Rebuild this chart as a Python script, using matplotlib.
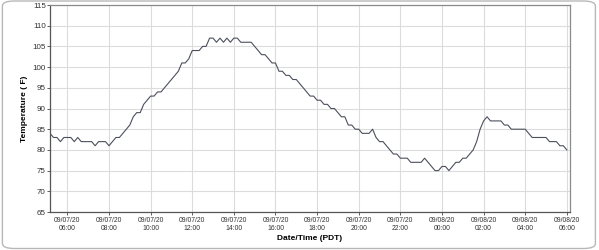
import matplotlib
matplotlib.use("Agg")
import matplotlib.pyplot as plt
import matplotlib.dates as mdates
from matplotlib.patches import FancyBboxPatch
import pandas as pd

# readings every 10 minutes, 09/07/20 05:10 -> 09/08/20 06:00 (PDT)
start = "2020-09-07 05:10"
temps = [
    84, 83, 83, 82, 83,                 # 05:10 - 05:50
    83, 83, 82, 83, 82, 82,             # 06:00
    82, 82, 81, 82, 82, 82,             # 07:00
    81, 82, 83, 83, 84, 85,             # 08:00
    86, 88, 89, 89, 91, 92,             # 09:00
    93, 93, 94, 94, 95, 96,             # 10:00
    97, 98, 99, 101, 101, 102,          # 11:00
    104, 104, 104, 105, 105, 107,       # 12:00
    107, 106, 107, 106, 107, 106,       # 13:00
    107, 107, 106, 106, 106, 106,       # 14:00
    105, 104, 103, 103, 102, 101,       # 15:00
    101, 99, 99, 98, 98, 97,            # 16:00
    97, 96, 95, 94, 93, 93,             # 17:00
    92, 92, 91, 91, 90, 90,             # 18:00
    89, 88, 88, 86, 86, 85,             # 19:00
    85, 84, 84, 84, 85, 83,             # 20:00
    82, 82, 81, 80, 79, 79,             # 21:00
    78, 78, 78, 77, 77, 77,             # 22:00
    77, 78, 77, 76, 75, 75,             # 23:00
    76, 76, 75, 76, 77, 77,             # 00:00
    78, 78, 79, 80, 82, 85,             # 01:00
    87, 88, 87, 87, 87, 87,             # 02:00
    86, 86, 85, 85, 85, 85,             # 03:00
    85, 84, 83, 83, 83, 83,             # 04:00
    83, 82, 82, 82, 81, 81,             # 05:00
    80,                                 # 06:00
]
times = pd.date_range(start, periods=len(temps), freq="10min")

y_ticks = list(range(65, 116, 5))

fig = plt.figure(figsize=(5.99, 2.5), dpi=100)
fig.patches.append(FancyBboxPatch((0.004, 0.006), 0.99, 0.99,
                                  boxstyle="round,pad=0,rounding_size=0.02",
                                  transform=fig.transFigure, fill=False,
                                  edgecolor="#b8b8b8", linewidth=1.0))
ax = fig.add_axes([0.0835, 0.152, 0.868, 0.828])

ax.plot(times, temps, color="#4b505c", linewidth=0.8)

ax.set_xlim(pd.Timestamp("2020-09-07 05:10"), pd.Timestamp("2020-09-08 06:09"))
ax.set_ylim(65, 115)
ax.set_yticks(y_ticks)
ax.xaxis.set_major_locator(mdates.HourLocator(byhour=range(0, 24, 2)))
ax.xaxis.set_major_formatter(mdates.DateFormatter("%m/%d/%y\n%H:%M"))

ax.grid(True, color="#dcdcdc", linewidth=0.8)
ax.set_axisbelow(True)
for s in ax.spines.values():
    s.set_color("#8a8a8a")
    s.set_linewidth(0.9)
ax.spines["left"].set_color("#555555")
ax.spines["bottom"].set_color("#555555")

ax.tick_params(axis="y", labelsize=5.8, length=2, width=0.6, pad=1,
               colors="#444444", labelcolor="#333333")
ax.tick_params(axis="x", labelsize=4.9, length=2, width=0.6, pad=1.5,
               colors="#444444", labelcolor="#333333")
for lbl in ax.get_xticklabels() + ax.get_yticklabels():
    lbl.set_family("Liberation Sans")

ax.set_ylabel("Temperature ( F)", fontsize=6, fontweight="bold",
              family="Liberation Sans", labelpad=3)
ax.set_xlabel("Date/Time (PDT)", fontsize=6, fontweight="bold",
              family="Liberation Sans", labelpad=2)

fig.savefig("out.png", dpi=100)
